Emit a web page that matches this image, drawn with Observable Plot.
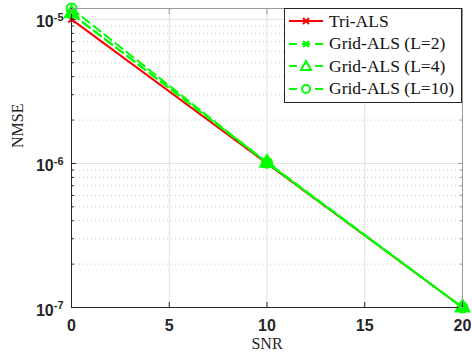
<!DOCTYPE html>
<html>
<head>
<meta charset="utf-8">
<script src="https://cdn.jsdelivr.net/npm/d3@7"></script>
<script src="https://cdn.jsdelivr.net/npm/@observablehq/plot@0.6"></script>
<style>
  html, body { margin: 0; padding: 0; background: white; }
  #wrap { position: relative; width: 472px; height: 354px; }
  #legend { position: absolute; left: 284px; top: 8px; width: 178px; height: 95px;
    border: 1px solid #262626; background: white; box-sizing: border-box;
    font-family: "Liberation Serif", "Times New Roman", serif; font-size: 17.5px; color: #111; }
  .row { position: absolute; left: 0; height: 22px; display: flex; align-items: center; white-space: nowrap; }
  .row svg { margin-left: 3px; margin-right: 5px; }
</style>
</head>
<body>
<div id="wrap"></div>
<script>
// ---- data ----
const snr = [0, 10, 20];
const triALS = [1.0e-5, 1.0e-6, 1.0e-7];
const gridL2 = [1.09e-5, 1.02e-6, 1.0e-7];
const gridL4 = [1.1e-5, 1.01e-6, 1.0e-7];
const gridL10 = [1.19e-5, 1.01e-6, 1.0e-7];
const seriesNames = ["Tri-ALS", "Grid-ALS (L=2)", "Grid-ALS (L=4)", "Grid-ALS (L=10)"];
const xTicks = [0, 5, 10, 15, 20];
const yTicks = [1e-7, 1e-6, 1e-5];
const yDomain = [1e-7, 1.19e-5];

const red = "#ff0000", green = "#00ff00";
const dashPat = "9,5";
const series = [
  {name: seriesNames[0], vals: triALS, color: red, dash: null, symbol: "times", r: 3},
  {name: seriesNames[1], vals: gridL2, color: green, dash: dashPat, symbol: "times", r: 3},
  {name: seriesNames[2], vals: gridL4, color: green, dash: dashPat, symbol: "triangle", r: 5},
  {name: seriesNames[3], vals: gridL10, color: green, dash: dashPat, symbol: "circle", r: 5}
];
const rows = series.flatMap(s => snr.map((x, i) => ({x, y: s.vals[i], name: s.name})));

const minorY = d3.scaleLog().domain(yDomain).ticks().filter(v => !yTicks.some(t => Math.abs(t - v) / t < 1e-6));

const lineMarks = series.flatMap(s => {
  const d = rows.filter(r => r.name === s.name);
  return [
    Plot.line(d, {x: "x", y: "y", stroke: s.color, strokeWidth: 2, strokeDasharray: s.dash}),
    Plot.dot(d, {x: "x", y: "y", stroke: s.color, strokeWidth: 2, symbol: s.symbol, r: s.r, fill: s.symbol === "triangle" ? s.color : "none"})
  ];
});

const tickFont = {fontFamily: "Liberation Sans, Arial, sans-serif", fontWeight: "bold", fontSize: 16, fill: "#262626"};
const noLab = {label: null, tickFormat: () => ""};

const chart = Plot.plot({
  width: 472, height: 354,
  marginLeft: 71, marginRight: 10, marginTop: 8, marginBottom: 47,
  style: {background: "white", color: "#262626"},
  x: {domain: [0, 20]},
  y: {type: "log", domain: yDomain},
  marks: [
    Plot.ruleY(minorY, {stroke: "#c8c8c8", strokeDasharray: "1,3"}),
    Plot.ruleX([5, 10, 15], {stroke: "#e0e0e0"}),
    Plot.ruleY([1e-6, 1e-5], {stroke: "#e0e0e0"}),
    ...lineMarks,
    Plot.frame({stroke: "#999"}),
    Plot.ruleX([0], {stroke: "#262626"}),
    Plot.ruleY([1e-7], {stroke: "#262626"}),
    // inward ticks
    Plot.axisX(xTicks, {anchor: "bottom", tickSize: -5, ...noLab, stroke: "#262626"}),
    Plot.axisX(xTicks, {anchor: "top", tickSize: -5, ...noLab, stroke: "#999"}),
    Plot.axisY(yTicks, {anchor: "left", tickSize: -5, ...noLab, stroke: "#262626"}),
    Plot.axisY(minorY, {anchor: "left", tickSize: -3, ...noLab, stroke: "#262626"}),
    Plot.axisY(yTicks, {anchor: "right", tickSize: -5, ...noLab, stroke: "#999"}),
    Plot.axisY(minorY, {anchor: "right", tickSize: -3, ...noLab, stroke: "#999"}),
    // labels
    Plot.axisX(xTicks, {anchor: "bottom", tickSize: 0, tickPadding: 12, label: null, ...tickFont}),
    Plot.axisY(yTicks, {anchor: "left", tickSize: 0, tickPadding: 8, label: null,
      tickFormat: d => "10^" + Math.round(Math.log10(d)), ...tickFont}),
    Plot.text(["NMSE"], {frameAnchor: "left", rotate: -90, dx: -54, dy: -10, fontFamily: "Liberation Serif, serif", fontSize: 16, fill: "#262626"}),
    Plot.text(["SNR"], {frameAnchor: "bottom", dy: 41, fontFamily: "Liberation Serif, serif", fontSize: 16, fill: "#262626"})
  ]
});

// superscript exponents on y tick labels
d3.select(chart).selectAll('g[aria-label="y-axis tick label"] text').each(function() {
  const t = d3.select(this);
  const s = t.text();
  const [base, exp] = s.split("^");
  t.text(null).attr("dy", "0.18em");
  t.append("tspan").text(base);
  t.append("tspan").attr("dy", "-0.6em").attr("font-size", 11).text(exp);
});

const wrap = document.getElementById("wrap");
wrap.appendChild(chart);

// legend overlay
const legend = document.createElement("div");
legend.id = "legend";
series.forEach((s, i) => {
  const row = document.createElement("div");
  row.className = "row";
  row.style.top = (1 + i * 22.5) + "px";
  const sw = d3.create("svg").attr("width", 36).attr("height", 14);
  sw.append("line").attr("x1", 1).attr("x2", 35).attr("y1", 7).attr("y2", 7)
    .attr("stroke", s.color).attr("stroke-width", 2).attr("stroke-dasharray", s.dash ? "8,5" : null);
  const cx = 18, cy = 7;
  if (s.symbol === "times") {
    sw.append("path").attr("d", `M${cx-3},${cy-3}L${cx+3},${cy+3}M${cx-3},${cy+3}L${cx+3},${cy-3}`).attr("stroke", s.color).attr("stroke-width", 2);
  } else if (s.symbol === "triangle") {
    sw.append("path").attr("d", `M${cx},${cy-5}L${cx+5},${cy+4}L${cx-5},${cy+4}Z`).attr("stroke", s.color).attr("stroke-width", 2).attr("fill", "white");
  } else {
    sw.append("circle").attr("cx", cx).attr("cy", cy).attr("r", 4).attr("stroke", s.color).attr("stroke-width", 2).attr("fill", "white");
  }
  row.appendChild(sw.node());
  const label = document.createElement("span");
  label.textContent = s.name;
  row.appendChild(label);
  legend.appendChild(row);
});
wrap.appendChild(legend);
</script>
</body>
</html>
